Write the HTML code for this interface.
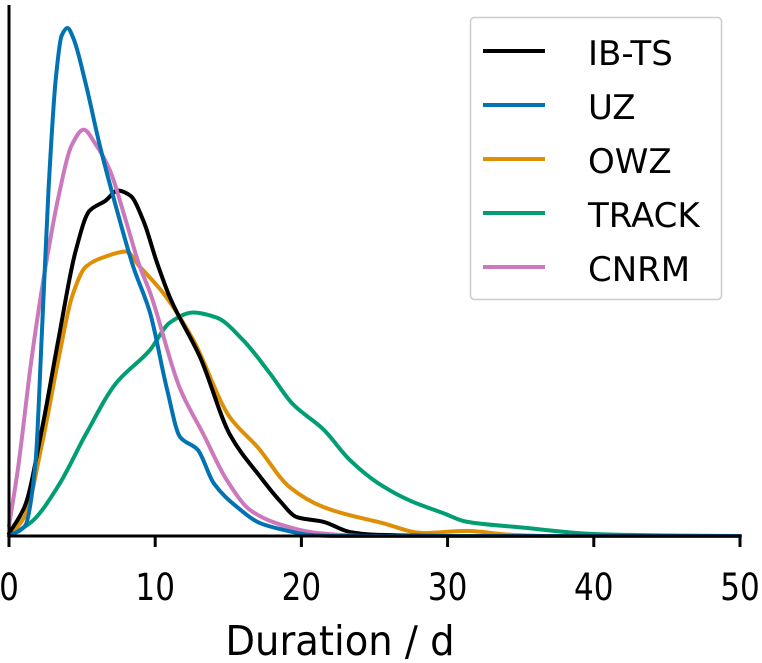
<!DOCTYPE html>
<html><head><meta charset="utf-8"><style>
html,body{margin:0;padding:0;background:#fff;}
svg{display:block;font-family:"DejaVu Sans","Liberation Sans",sans-serif;}
</style></head><body>
<svg id="chart" width="762" height="663" viewBox="0 0 762 663"></svg>
<script>
const xTicks=[0,10,20,30,40,50];
const seriesNames=["IB-TS","UZ","OWZ","TRACK","CNRM"];
const seriesColors=["#000000","#0173b2","#de8f05","#029e73","#cc78bc"];
const ibtsX=[0,1.1,2.25,3.4,4.55,5.5,6.6,7.45,8.3,9.2,10.1,11.0,13.1,15.1,17.2,18.5,19.7,21.5,23.3,24.7,27,30,50];
const ibtsY=[0.005,0.06,0.21,0.39,0.56,0.64,0.66,0.68,0.67,0.62,0.54,0.47,0.35,0.20,0.116,0.07,0.037,0.028,0.008,0.003,0.001,0,0];
const uzX=[0,1.1,1.8,2.25,2.7,3.2,3.6,4.0,4.4,5.25,6.2,7.3,8.5,9.64,10.8,11.7,12.9,14.0,15.6,17.2,18.8,20.6,22.4,50];
const uzY=[0,0.02,0.14,0.40,0.68,0.90,0.985,1.0,0.98,0.89,0.77,0.65,0.53,0.44,0.29,0.195,0.17,0.104,0.057,0.025,0.012,0.002,0,0];
const owzX=[0,1.1,2.25,3.4,4.3,5.25,6.6,8.0,8.95,10.5,12.6,15.1,17.0,19.2,21.5,25.6,28.3,31.3,34,37,50];
const owzY=[0,0.04,0.18,0.35,0.47,0.53,0.55,0.56,0.53,0.48,0.386,0.234,0.175,0.096,0.057,0.025,0.006,0.01,0.003,0,0];
const trackX=[0,1.55,3.4,5.25,7.3,9.64,11.0,12.6,14.2,16.0,17.85,19.4,21.5,23.3,25.2,27.4,29.7,31.3,35,40,45,50];
const trackY=[0,0.028,0.1,0.2,0.3,0.366,0.42,0.44,0.43,0.386,0.32,0.26,0.21,0.15,0.105,0.07,0.045,0.028,0.017,0.004,0.001,0];
const cnrmX=[0,0.6,1.55,2.5,3.4,4.3,5.1,5.95,6.9,8.0,8.95,9.64,11.7,13.3,14.9,16.5,18.3,21.1,24.7,50];
const cnrmY=[0.02,0.13,0.35,0.53,0.67,0.77,0.80,0.77,0.72,0.62,0.53,0.48,0.29,0.20,0.11,0.051,0.025,0.006,0,0];
const seriesX=[ibtsX,uzX,owzX,trackX,cnrmX];
const seriesY=[ibtsY,uzY,owzY,trackY,cnrmY];

const NS="http://www.w3.org/2000/svg";
const svg=document.getElementById('chart');
const x0=9,x1=740,yBase=536,yUnit=508;
const sx=v=>x0+(v-0)/(50-0)*(x1-x0);
const sy=v=>yBase-v*yUnit;
function mk(tag,attrs){const e=document.createElementNS(NS,tag);for(const k in attrs)e.setAttribute(k,attrs[k]);svg.appendChild(e);return e;}
function monotonePath(xs,ys){
  const px=xs.map(sx),py=ys.map(sy),n=px.length;
  const d=[],m=new Array(n);
  for(let i=0;i<n-1;i++)d.push((py[i+1]-py[i])/(px[i+1]-px[i]));
  m[0]=d[0];m[n-1]=d[n-2];
  for(let i=1;i<n-1;i++){
    if(d[i-1]*d[i]<=0)m[i]=0;
    else{const h0=px[i]-px[i-1],h1=px[i+1]-px[i];const w1=2*h1+h0,w2=h1+2*h0;m[i]=(w1+w2)/(w1/d[i-1]+w2/d[i]);}
  }
  let s=`M${px[0]},${py[0]}`;
  for(let i=0;i<n-1;i++){
    const h=(px[i+1]-px[i])/3;
    s+=` C${px[i]+h},${py[i]+m[i]*h} ${px[i+1]-h},${py[i+1]-m[i+1]*h} ${px[i+1]},${py[i+1]}`;
  }
  return s;
}
const order=[3,2,0,4,1];
order.forEach(i=>{
  const el=mk('path',{d:monotonePath(seriesX[i],seriesY[i]),fill:'none',stroke:seriesColors[i],'stroke-width':4,'stroke-linejoin':'round','stroke-linecap':'round'});
  
  
});
const ya=mk('line',{x1:x0,y1:5,x2:x0,y2:yBase,stroke:'#000','stroke-width':3});


const xa=mk('line',{x1:x0-1.5,y1:yBase,x2:x1+1.5,y2:yBase,stroke:'#000','stroke-width':3});


xTicks.forEach(t=>{
  const tk=mk('line',{x1:sx(t),y1:yBase,x2:sx(t),y2:yBase+11,stroke:'#000','stroke-width':3});
  
  
  const tl=mk('text',{x:0,y:0,'text-anchor':'middle','font-size':37,transform:`translate(${sx(t)},600) scale(0.84,1)`});
  tl.textContent=String(t);
  
  
});
const xt=mk('text',{x:0,y:0,'text-anchor':'middle','font-size':41,transform:'translate(340,655) scale(0.94,1)'});
xt.textContent='Duration / d';


const lg=mk('rect',{x:470.5,y:17.5,width:251,height:282,rx:4,fill:'#fff',stroke:'#cccccc','stroke-width':1.5});


seriesNames.forEach((n,i)=>{
  const y=51+i*54;
  const ll=mk('line',{x1:483,y1:y,x2:545,y2:y,stroke:seriesColors[i],'stroke-width':4});
  
  
  const lt=mk('text',{x:588,y:y+14,'font-size':34});
  lt.textContent=n;
  
  
});
</script>
</body></html>
